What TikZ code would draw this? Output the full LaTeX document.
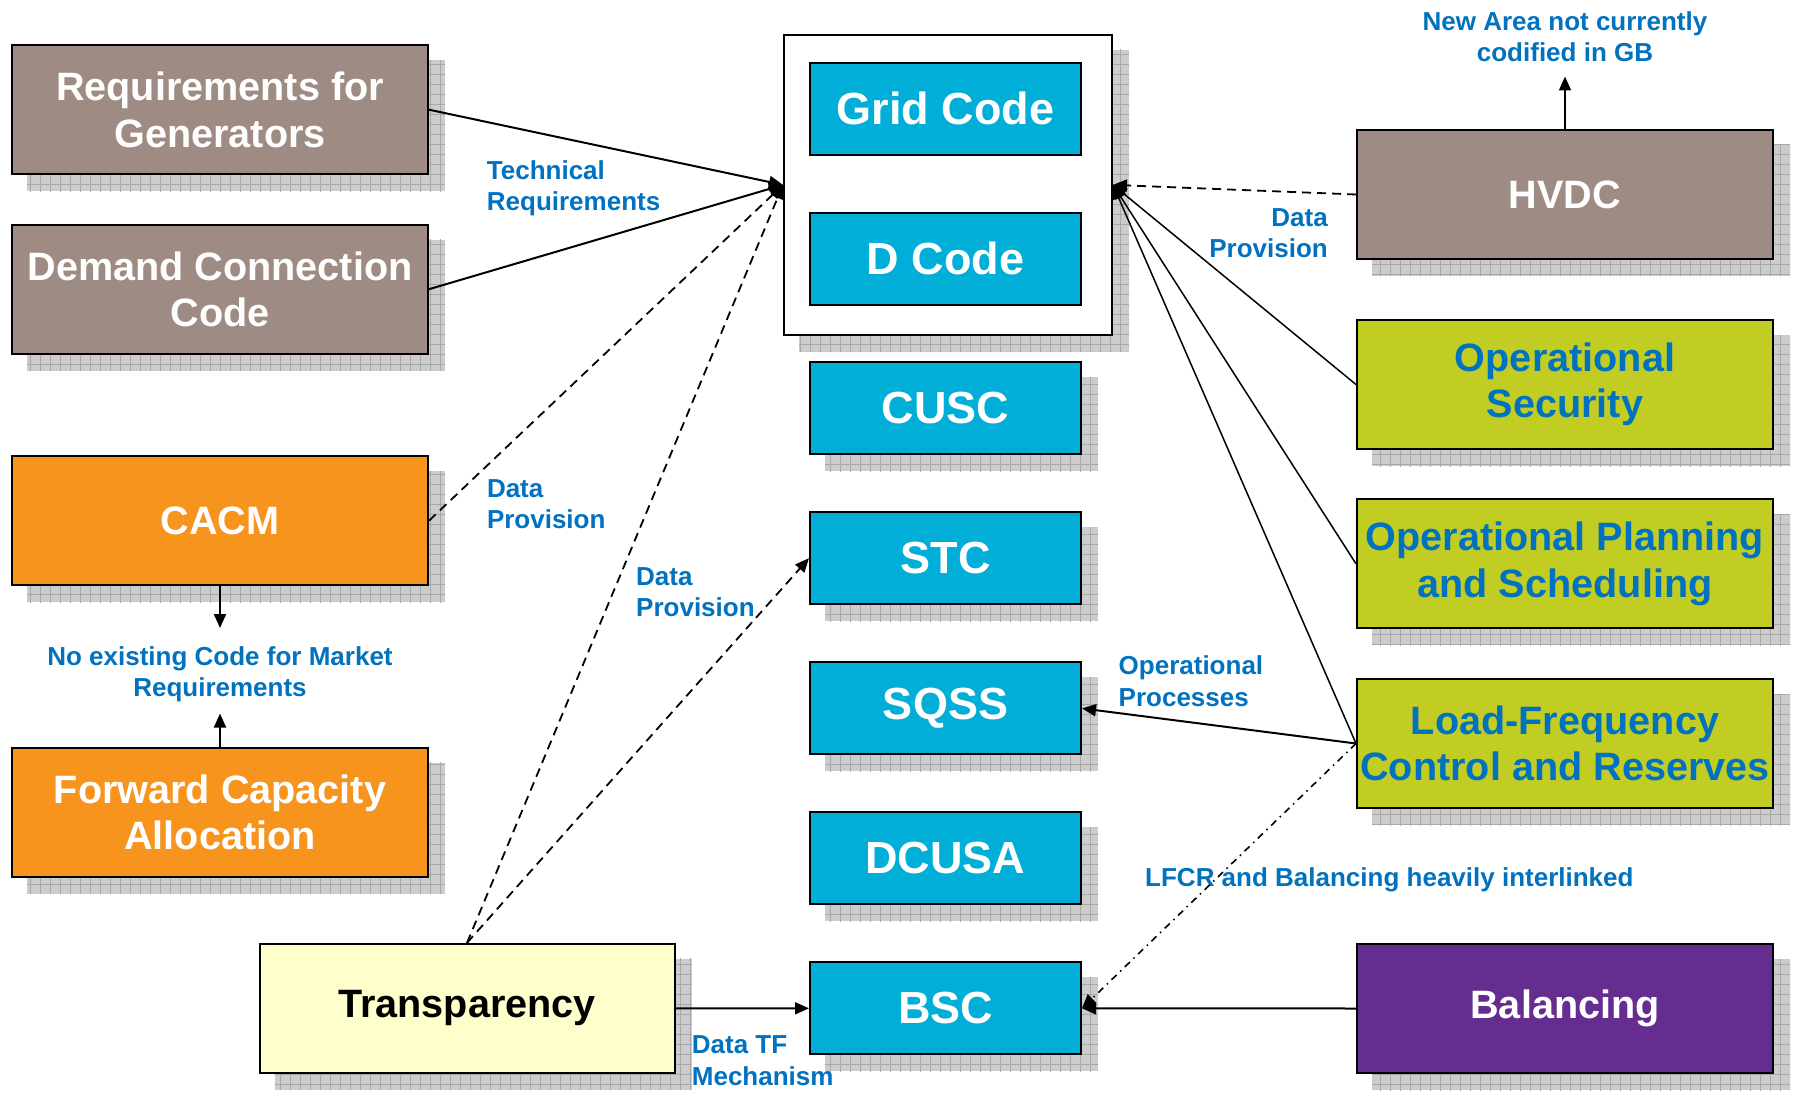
\documentclass[tikz,border=0pt]{standalone}
\usepackage{fontspec}
\setmainfont{Liberation Sans}
\usetikzlibrary{arrows.meta,patterns.meta,backgrounds}
\definecolor{brn}{HTML}{9E8C84}
\definecolor{org}{HTML}{F7941E}
\definecolor{cyn}{HTML}{00AED8}
\definecolor{ylg}{HTML}{C2CD23}
\definecolor{prp}{HTML}{662D91}
\definecolor{lyl}{HTML}{FFFFCC}
\definecolor{lbl}{HTML}{0072C0}
\newcommand\dropsh[1]{\begin{scope}[on background layer]\path[shd] ([shift={(16,16)}]#1.north west) rectangle ([shift={(16,16)}]#1.south east);\end{scope}}
\begin{document}
\begin{tikzpicture}[x=1pt,y=-1pt,
  box/.style={draw=black, line width=2pt, minimum width=416pt, minimum height=129pt, inner sep=0pt, align=center, font=\bfseries\fontsize{39.6}{46.5}\selectfont, text=white},
  cbox/.style={draw=black, line width=2pt, fill=cyn, minimum width=271pt, minimum height=92pt, inner sep=0pt, font=\bfseries\fontsize{45}{52}\selectfont, text=white},
  lab/.style={text=lbl, font=\bfseries\fontsize{26}{31.6}\selectfont, inner sep=0pt},
  shd/.style={fill=black!20, postaction={pattern={Hatch[distance=10pt,angle=0,line width=0.6pt]}, pattern color=black!34}},
  arr/.style={-{Triangle[length=14pt,width=12pt]}, line width=2pt},
  thinarr/.style={-{Triangle[length=14pt,width=12pt]}, line width=1.5pt},
  dsh/.style={dash pattern=on 9pt off 6pt, line width=1.8pt},
  dshdot/.style={dash pattern=on 7pt off 5pt on 1.5pt off 5pt, line width=1.6pt}
]
\useasboundingbox (0,0) rectangle (1797,1094);
\begin{scope}[on background layer]
\fill[white] (0,0) rectangle (1797,1094);
\end{scope}

% left column
\node[box, fill=brn] (rg) at (220,109.7) {Requirements for\\Generators}; \dropsh{rg}
\node[box, fill=brn] (dc) at (220,289.2) {Demand Connection\\Code}; \dropsh{dc}
\node[box, fill=org] (cacm) at (220,520.7) {CACM}; \dropsh{cacm}
\node[box, fill=org] (fca) at (220,812.2) {Forward Capacity\\Allocation}; \dropsh{fca}
\node[box, fill=lyl, text=black, minimum width=415pt] (tr) at (467,1008.4) {Transparency}; \dropsh{tr}

% centre column
\node[draw=black, line width=2pt, fill=white, minimum width=328pt, minimum height=300pt, inner sep=0pt] (outer) at (948,184.9) {}; \dropsh{outer}
\node[cbox] (gc) at (945.5,108.7) {Grid Code};
\node[cbox] (dcode) at (945.5,258.7) {D Code};
\node[cbox] (cusc) at (945.5,408.2) {CUSC}; \dropsh{cusc}
\node[cbox] (stc) at (945.5,558.2) {STC}; \dropsh{stc}
\node[cbox] (sqss) at (945.5,708.4) {SQSS}; \dropsh{sqss}
\node[cbox] (dcusa) at (945.5,858.4) {DCUSA}; \dropsh{dcusa}
\node[cbox] (bsc) at (945.5,1008.3) {BSC}; \dropsh{bsc}

% right column
\node[box, fill=brn] (hvdc) at (1565,194.5) {HVDC}; \dropsh{hvdc}
\node[box, fill=ylg, text=lbl] (opsec) at (1565,384.5) {Operational\\Security}; \dropsh{opsec}
\node[box, fill=ylg, text=lbl] (ops) at (1565,563.8) {Operational Planning\\and Scheduling}; \dropsh{ops}
\node[box, fill=ylg, text=lbl] (lfcr) at (1565,743.5) {Load-Frequency\\Control and Reserves}; \dropsh{lfcr}
\node[box, fill=prp] (bal) at (1565,1008.5) {Balancing}; \dropsh{bal}

% labels
\node[lab, anchor=north west, align=left] (ltech) at (486.7,160.3) {Technical\\Requirements};
\node[lab, anchor=north west, align=left] (ldp1) at (486.8,479) {Data\\Provision};
\node[lab, anchor=north west, align=left] (ldp2) at (636,567) {Data\\Provision};
\node[lab, anchor=north east, align=right] (ldp3) at (1328,208) {Data\\Provision};
\node[lab, anchor=north, align=center] (lnew) at (1565,11) {New Area not currently\\codified in GB};
\node[lab, anchor=north, align=center] (lnoex) at (220,646) {No existing Code for Market\\Requirements};
\node[lab, anchor=north west, align=left] (lop) at (1118.5,655.5) {Operational\\Processes};
\node[lab, anchor=north west] (llfcr) at (1145,867.5) {LFCR and Balancing heavily interlinked};
\node[lab, anchor=north west, align=left] (ltf) at (691.7,1035.5) {Data TF\\Mechanism};

\coordinate (cdown) at (220,628);
\coordinate (cup) at (220,713.5);
\coordinate (chv) at (1565,76.5);

% connectors
\draw[arr] (rg.east) -- (outer.west);
\draw[arr] (dc.east) -- (outer.west);
\draw[arr,dsh] (cacm.east) -- (outer.west);
\draw[arr,dsh] (tr.north) -- (outer.west);
\draw[arr,dsh] (tr.north) -- (stc.west);
\draw[arr] (tr.east) -- (bsc.west);
\draw[arr] (cacm.south) -- (cdown);
\draw[arr] (fca.north) -- (cup);
\draw[arr] (hvdc.north) -- (chv);
\draw[arr,dsh] (hvdc.west) -- (outer.east);
\draw[thinarr] (opsec.west) -- (outer.east);
\draw[thinarr] (ops.west) -- (outer.east);
\draw[thinarr] (lfcr.west) -- (outer.east);
\draw[arr] (lfcr.west) -- (sqss.east);
\draw[arr,dshdot] (lfcr.west) -- (bsc.east);
\draw[arr] (bal.west) -- (bsc.east);
\end{tikzpicture}
\end{document}
